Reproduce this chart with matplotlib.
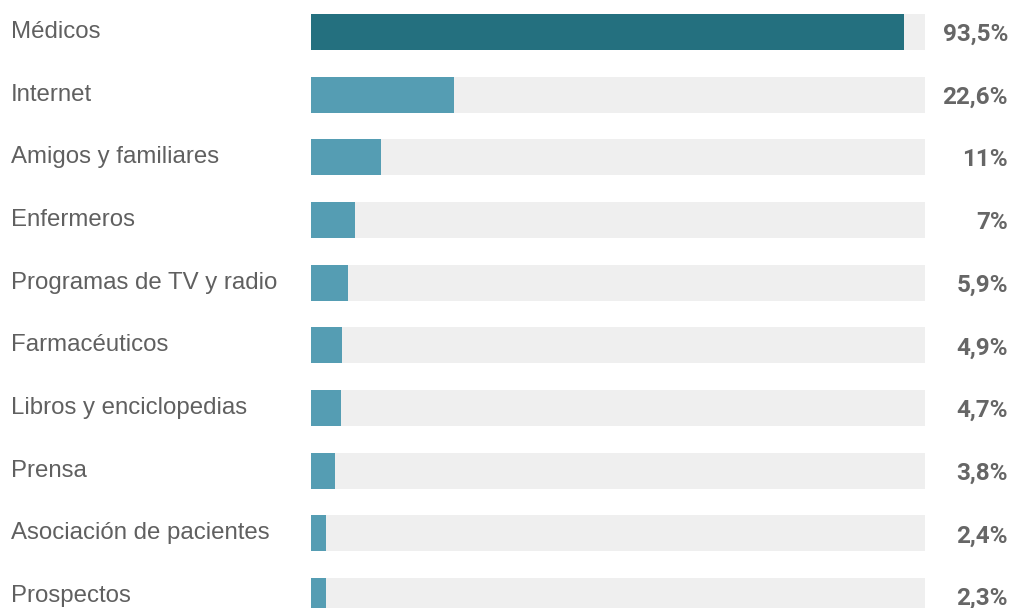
import matplotlib.pyplot as plt
import matplotlib.transforms as mtransforms

categories = ["Médicos", "Internet", "Amigos y familiares", "Enfermeros",
              "Programas de TV y radio", "Farmacéuticos", "Libros y enciclopedias",
              "Prensa", "Asociación de pacientes", "Prospectos"]
values = [93.5, 22.6, 11, 7, 5.9, 4.9, 4.7, 3.8, 2.4, 2.3]
value_labels = ["93,5%", "22,6%", "11%", "7%", "5,9%", "4,9%", "4,7%", "3,8%", "2,4%", "2,3%"]
track_max = 96.8

W, H = 1014, 608
fig = plt.figure(figsize=(W / 100, H / 100), dpi=100)
ax = fig.add_axes([311 / W, 0, 614 / W, 1])

ypos = list(range(len(categories)))
bh = 0.574
ax.barh(ypos, [track_max] * len(ypos), height=bh, color="#efefef", zorder=1)
colors = ["#24707f"] + ["#559db3"] * (len(values) - 1)
ax.barh(ypos, values, height=bh, color=colors, zorder=2)

ax.set_xlim(0, track_max)
ax.set_ylim(9.19, -0.511)
ax.axis("off")

trans = mtransforms.blended_transform_factory(fig.transFigure, ax.transData)
for y, cat, lab in zip(ypos, categories, value_labels):
    ax.text(11 / W, y + 0.0, cat, transform=trans, ha="left", va="center",
            fontsize=17.3, color="#606060", family="Liberation Sans")
    ax.text(1008 / W, y + 0.04, lab, transform=trans, ha="right", va="center",
            fontsize=17.5, color="#666666", family="Roboto", fontweight="bold")

fig.savefig("out.png", dpi=100, facecolor="white")
